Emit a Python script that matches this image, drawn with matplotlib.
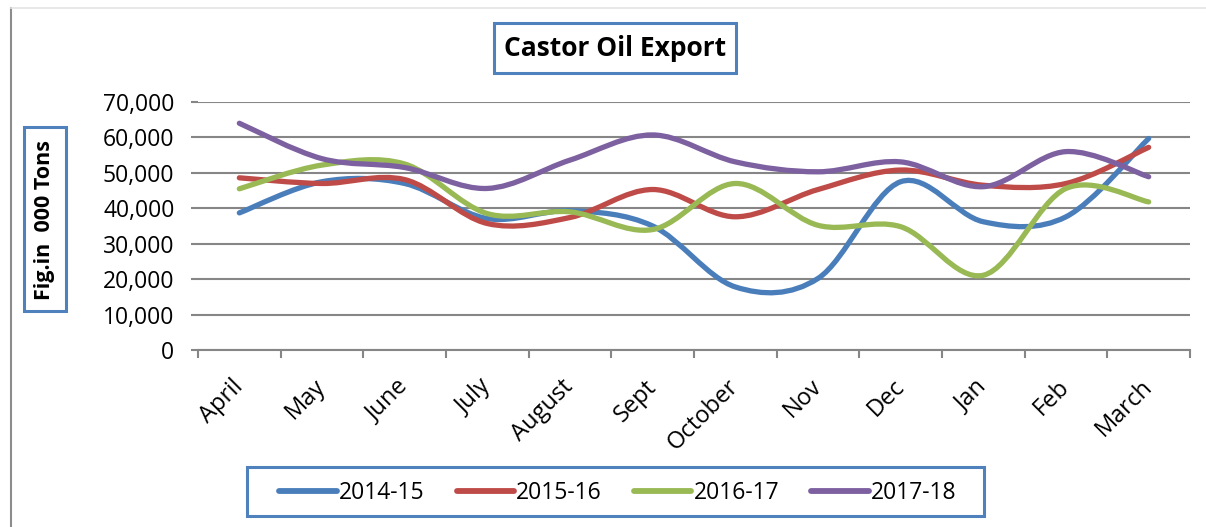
import matplotlib
matplotlib.use("Agg")
import matplotlib.pyplot as plt
from matplotlib.path import Path
from matplotlib.patches import PathPatch, Rectangle
from matplotlib.lines import Line2D
from matplotlib.ticker import FuncFormatter, MultipleLocator
import numpy as np

months = ["April", "May", "June", "July", "August", "Sept", "October",
          "Nov", "Dec", "Jan", "Feb", "March"]
series_names = ["2014-15", "2015-16", "2016-17", "2017-18"]
exp_2014_15 = [38700, 47500, 47000, 37100, 39300, 35000, 17800, 20200, 47500, 36200, 37600, 59700]
exp_2015_16 = [48600, 47000, 48100, 35700, 37400, 45300, 37600, 45300, 50800, 46500, 47000, 57200]
exp_2016_17 = [45500, 52200, 52500, 38500, 39000, 34000, 47000, 35200, 34800, 21100, 45600, 41800]
exp_2017_18 = [64000, 54000, 51500, 45600, 53600, 60700, 53100, 50300, 53100, 46100, 56000, 48900]
colors = ["#4A7EBB", "#BE4B48", "#98B954", "#7D60A0"]

plt.rcParams["font.family"] = ["Open Sans", "DejaVu Sans"]

W, H = 1206, 527
fig = plt.figure(figsize=(W / 100, H / 100), dpi=100)


def fx(px):
    return px / W


def fy(py):
    return 1 - py / H


ax = fig.add_axes([fx(198), fy(350), fx(1190) - fx(198), fy(102) - fy(350)])


def smooth_path(xs, ys):
    # Excel-style smoothed line: cubic Bezier through every point
    pts = np.column_stack([xs, ys]).astype(float)
    ext = np.vstack([pts[0], pts, pts[-1]])
    verts = [tuple(pts[0])]
    codes = [Path.MOVETO]
    for i in range(len(pts) - 1):
        p0, p1, p2, p3 = ext[i], ext[i + 1], ext[i + 2], ext[i + 3]
        c1 = p1 + (p2 - p0) / 6
        c2 = p2 - (p3 - p1) / 6
        verts += [tuple(c1), tuple(c2), tuple(p2)]
        codes += [Path.CURVE4] * 3
    return Path(verts, codes)


x = np.arange(len(months))
handles = []
for name, vals, col in zip(series_names, [exp_2014_15, exp_2015_16, exp_2016_17, exp_2017_18], colors):
    patch = PathPatch(smooth_path(x, vals), fill=False, edgecolor=col, linewidth=3.8,
                      capstyle="round", joinstyle="round", zorder=3)
    ax.add_patch(patch)
    handles.append(Line2D([], [], color=col, linewidth=4.2, solid_capstyle="round", label=name))

ax.set_xlim(-0.5, len(months) - 0.5)
ax.set_ylim(0, 70000)
ax.yaxis.set_major_locator(MultipleLocator(10000))
ax.yaxis.set_major_formatter(FuncFormatter(lambda v, p: f"{int(v):,}"))
ax.grid(axis="y", color="#868686", linewidth=1.5, zorder=1)
ax.set_axisbelow(True)
for s in ["top", "right", "left"]:
    ax.spines[s].set_visible(False)
ax.spines["bottom"].set_color("#868686")
ax.spines["bottom"].set_linewidth(1.5)

ax.set_xticks(x)
ax.set_xticklabels(months, rotation=45, ha="right", va="center", rotation_mode="anchor",
                   fontsize=17)
ax.tick_params(axis="x", which="major", length=0, pad=24)
ax.set_xticks(np.arange(-0.5, len(months) + 0.5, 1), minor=True)
ax.tick_params(axis="x", which="minor", length=6, width=1.5, color="#868686")
ax.tick_params(axis="y", length=5, width=1.5, color="#868686", pad=12, labelsize=16.5)

# outer chart frame
fig.add_artist(Line2D([fx(11), fx(11)], [fy(8), 0], color="#8C8C8C", linewidth=1.5))
fig.add_artist(Line2D([fx(11), 1], [fy(8), fy(8)], color="#E4E4E4", linewidth=1.2))

# title box
fig.add_artist(Rectangle((fx(494), fy(73)), fx(736) - fx(494), fy(23) - fy(73),
                         fill=False, edgecolor="#4F81BD", linewidth=2.2))
fig.text(fx(615), fy(48), "Castor Oil Export", ha="center", va="center",
         fontsize=19, fontweight="bold")

# y label box
fig.add_artist(Rectangle((fx(24), fy(311)), fx(66) - fx(24), fy(127) - fy(311),
                         fill=False, edgecolor="#4F81BD", linewidth=2.2))
fig.text(fx(45), fy(220), "Fig.in  000 Tons", ha="center", va="center", rotation=90,
         fontsize=15.5, fontweight="bold")

# legend box
fig.add_artist(Rectangle((fx(247), fy(516)), fx(984) - fx(247), fy(467) - fy(516),
                         fill=False, edgecolor="#4F81BD", linewidth=2.2))
fig.legend(handles=handles, loc="center", bbox_to_anchor=(fx(618), fy(493)), ncol=4,
           frameon=False, fontsize=16.5, handlelength=2.5, handletextpad=0.1,
           columnspacing=1.4)

fig.savefig("out.png", dpi=100)
